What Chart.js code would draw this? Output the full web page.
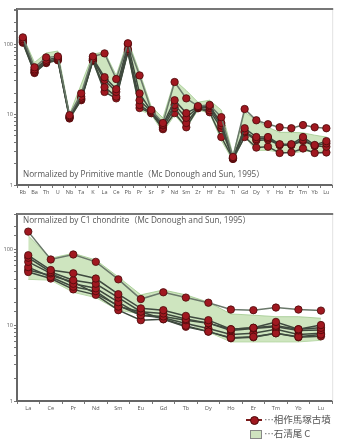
<!DOCTYPE html>
<html><head><meta charset="utf-8">
<script src="https://cdn.jsdelivr.net/npm/chart.js@4/dist/chart.umd.min.js"></script>
<style>
html,body{margin:0;padding:0;background:#fff;width:337px;height:442px;overflow:hidden;font-family:"Noto Sans CJK JP","Noto Sans",sans-serif;}
#c1{position:absolute;left:0;top:0;}
#c2{position:absolute;left:0;top:200px;}
.lg{position:absolute;font-size:9.5px;color:#555;white-space:nowrap;}
</style></head><body>
<canvas id="c1" width="337" height="197"></canvas>
<canvas id="c2" width="337" height="213"></canvas>
<div class="lg" style="left:246px;top:412px;">
 <span style="display:inline-block;position:relative;width:16px;height:8px;vertical-align:middle;">
  <span style="position:absolute;left:0;top:3px;width:16px;height:1.5px;background:#7a1a1a;"></span>
  <span style="position:absolute;left:4px;top:0;width:7px;height:7px;border-radius:50%;background:#a01820;border:0.5px solid #4a0a0a;"></span>
 </span> …相作馬塚古墳</div>
<div class="lg" style="left:250px;top:426px;">
 <span style="display:inline-block;width:10px;height:7px;background:#cfe3bf;border:1px solid #888;vertical-align:middle;"></span> …石清尾 C</div>
<script>
// ---- Top panel: Primitive mantle normalized ----
const pmElements = ["Rb","Ba","Th","U","Nb","Ta","K","La","Ce","Pb","Pr","Sr","P","Nd","Sm","Zr","Hf","Eu","Ti","Gd","Dy","Y","Ho","Er","Tm","Yb","Lu"];
const pmSample1 = [125,47,65,67,9.8,20,67,74,32,103,36,11.6,7.6,29,17,13.2,13.7,9.2,2.5,12,8.3,7.3,6.6,6.4,7.1,6.6,6.4];
const pmSample2 = [118,44,60,64,9.5,18,63,34,23,100,20,11.2,7.2,16,10.5,12.8,13.2,7.6,2.45,6.4,4.8,4.8,3.8,3.8,4.8,3.7,4.2];
const pmSample3 = [112,42,57,62,9.2,17,60,31,21,85,16,11,7,13.7,9,12.6,12.5,7,2.4,5.8,4.5,4.6,3.7,3.7,4.4,3.6,3.9];
const pmSample4 = [108,40,55,60,9,16.5,59,24.5,18,80,13.7,10.5,6.5,12.4,7.6,12.4,11.5,6.4,2.35,5.6,4.3,4.4,3.7,3.7,4.2,3.6,3.5];
const pmSample5 = [105,39,54,59,8.8,16,58,21,17,77,12.4,10.5,6.2,10.5,6.6,12.3,10.8,4.8,2.35,4.8,3.4,3.5,2.85,2.9,3.3,2.85,2.9];
const pmBandHigh = [130,55,75,80,10.2,27,72,78,36,115,40,13,9,31,22,15,16,11.6,2.7,10.8,8.3,6.6,5.6,5.6,5.5,5.1,4.8];
const pmBandLow  = [100,40,55,58,8.5,16,55,22,18,74,11.6,10,5.6,9.8,6.4,11.6,10.5,4.3,2.2,4.8,3.1,3.1,2.95,2.85,3,3,3];

// ---- Bottom panel: C1 chondrite normalized ----
const reeElements = ["La","Ce","Pr","Nd","Sm","Eu","Gd","Tb","Dy","Ho","Er","Tm","Yb","Lu"];
const reeSample1 = [170,73,85,68,40,22,27,23,19.7,16,15.7,17,16,15.5];
const reeSample2 = [83,53,48,41,25.5,16.6,15.7,13.2,11.6,8.8,9.2,11,8.8,10];
const reeSample3 = [77,50,39,35,23,15,14.2,12,10.6,8.8,9.2,9.8,8.8,9.2];
const reeSample4 = [68,48,35,30.5,20,13.5,13,11.6,10.6,8.5,9,9.5,8.5,8.6];
const reeSample5 = [58,43,32,28,17.5,15,12,9.8,8.2,6.8,7,7.8,7,7.5];
const reeSample6 = [50,41,29.5,25,15.7,11.6,11.9,9.5,8.2,6.7,6.9,7.8,6.9,7.1];
const reeSample7 = [53,45,37,26,18,13.5,12.5,10.5,9,7.5,7.8,8.8,7.5,7.8];
const reeBandHigh = [150,76,88,72,43,25,29,25,20,14,13.5,12.9,12.9,12.3];
const reeBandLow  = [40,39,27,23,15.7,14,12,10.7,8.1,6,6,6,6,6.3];

const axisColor = '#555';
const lineColor = '#3f4a3f';

function frameAndText(label, pos){
  return {
    id:'frame_'+pos,
    afterDraw(chart){
      const a = chart.chartArea, ctx = chart.ctx;
      ctx.save();
      ctx.strokeStyle = '#e2e2e2';
      ctx.lineWidth = 1;
      ctx.beginPath(); ctx.moveTo(a.right+0.5, a.top); ctx.lineTo(a.right+0.5, a.bottom); ctx.stroke();
      ctx.strokeStyle = '#777';
      ctx.lineWidth = 2;
      ctx.beginPath(); ctx.moveTo(a.left, a.top); ctx.lineTo(a.right+1, a.top); ctx.stroke();
      ctx.fillStyle = '#555';
      ctx.font = '8.2px "Open Sans", "Noto Sans CJK JP", sans-serif';
      ctx.textBaseline = 'middle';
      const y = pos === 'bottom' ? a.bottom - 10 : a.top + 7;
      ctx.fillText(label, a.left + 6, y);
      ctx.restore();
    }
  };
}

function makeDatasets(samples, high, low){
  const ds = [];
  samples.forEach((s,i)=>{
    ds.push({data:s, borderColor: i===0 ? '#6a786a' : lineColor, borderWidth:1.5,
      pointRadius:3.7, pointBackgroundColor:'#a01820', pointBorderColor:'#4a0a0a', pointBorderWidth:0.8,
      fill:false, order:0, tension:0});
  });
  ds.push({data:high, borderColor:'rgba(150,195,130,0.7)', borderWidth:1, pointRadius:0,
    backgroundColor:'rgba(190,220,170,0.75)', fill:'+1', order:10, tension:0});
  ds.push({data:low, borderColor:'rgba(150,195,130,0.7)', borderWidth:1, pointRadius:0,
    fill:false, order:10, tension:0});
  return ds;
}

function makeOptions(max, padTop, xH){
  return {
    responsive:false, animation:false,
    layout:{padding:{top:padTop, right:2, left:0, bottom:0}},
    plugins:{legend:{display:false}, tooltip:{enabled:false}},
    scales:{
      x:{type:'category', offset:true,
        grid:{display:true, drawOnChartArea:false, tickLength:3, color:'#777', offset:true},
        border:{display:true, color:'#666', width:2},
        ticks:{color:axisColor, font:{size:5.5, family:'"Open Sans", sans-serif'}, padding:1, maxRotation:0, autoSkip:false},
        afterFit(s){ s.height = xH; }
      },
      y:{type:'logarithmic', min:1, max:max,
        grid:{display:true, drawOnChartArea:false, tickLength:3, color:'#777'},
        border:{display:true, color:'#666', width:2},
        ticks:{color:axisColor, font:{size:5.5, family:'"Open Sans", sans-serif'}, padding:1, autoSkip:false,
          callback(v){ const l = Math.log10(v); return Math.abs(l - Math.round(l)) < 1e-9 ? String(v) : ''; }},
        afterFit(s){ s.width = 17; }
      }
    }
  };
}

new Chart(document.getElementById('c1'), {
  type:'line',
  data:{labels:pmElements, datasets:makeDatasets([pmSample1,pmSample2,pmSample3,pmSample4,pmSample5], pmBandHigh, pmBandLow)},
  options:makeOptions(316, 9, 12),
  plugins:[frameAndText('Normalized by Primitive mantle\uFF08Mc Donough and Sun, 1995\uFF09','bottom')]
});

new Chart(document.getElementById('c2'), {
  type:'line',
  data:{labels:reeElements, datasets:makeDatasets([reeSample1,reeSample2,reeSample3,reeSample4,reeSample5,reeSample6,reeSample7], reeBandHigh, reeBandLow)},
  options:makeOptions(290, 14, 12),
  plugins:[frameAndText('Normalized by C1 chondrite\uFF08Mc Donough and Sun, 1995\uFF09','top')]
});
</script>
</body></html>
